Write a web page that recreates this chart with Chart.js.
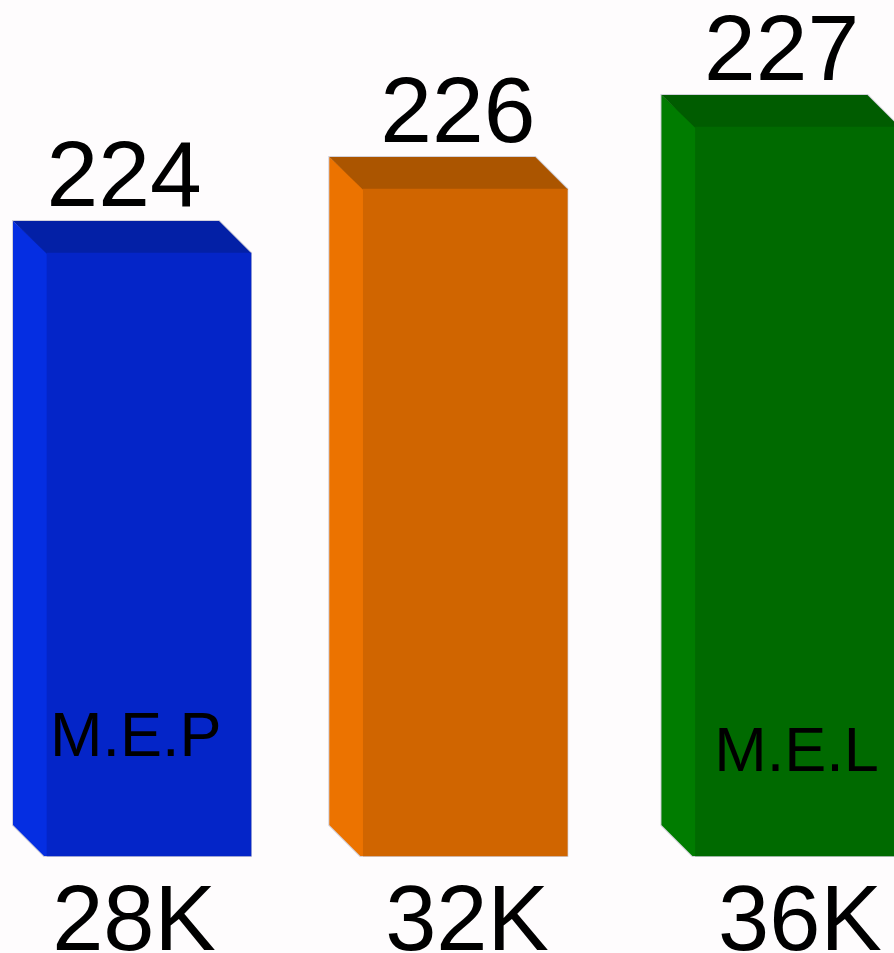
<!DOCTYPE html>
<html lang="en">
<head>
<meta charset="UTF-8">
<title>M.E.P / M.E.L bars</title>
<style>
  html, body { margin: 0; padding: 0; background: #fefcfd; }
  /* the reference is a soft upscaled image */
  canvas { display: block; filter: blur(0.6px); }
</style>
<script src="https://cdn.jsdelivr.net/npm/chart.js@4/dist/chart.umd.min.js"></script>
</head>
<body>
<canvas id="barChart" width="894" height="953"></canvas>
<script>
// values
var tickValues = [28, 32, 36];
var tickLabels = ['28K', '32K', '36K'];
var barPositions = [28.18, 31.98, 35.97];   // where the bars sit on the x axis
var barHeights = [603, 667, 729];           // drawn height, the picture does not scale with the labels
var valueLabels = ['224', '226', '227'];
var valueLabelX = [27.88, 31.89, 35.78];
var noteLabels = ['M.E.P', 'M.E.L'];
var noteX = [28.02, 35.96];
var noteY = [100, 85];

var frontColors = ['#0425c8', '#d06500', '#006a00'];
var sideColors = ['#052ee2', '#ec7300', '#007c00'];
var topColors = ['#0320a6', '#ab5500', '#005c00'];

var FONT = '"Liberation Sans", Arial, sans-serif';
var DEPTH_X = 34;
var DEPTH_Y = 32;

function poly(ctx, pts) {
  ctx.beginPath();
  ctx.moveTo(pts[0][0], pts[0][1]);
  for (var i = 1; i < pts.length; i++) ctx.lineTo(pts[i][0], pts[i][1]);
  ctx.closePath();
}

// side and top faces follow each bar element, the front face is the bar itself
var faces3d = {
  id: 'faces3d',
  beforeDatasetsDraw: function(chart) {
    var ctx = chart.ctx;
    chart.getDatasetMeta(0).data.forEach(function(bar, i) {
      var p = bar.getProps(['x', 'y', 'base', 'width'], true);
      var l = p.x - p.width / 2, r = p.x + p.width / 2;
      var t = p.y, b = p.base;
      var side = [[l + 1, t], [l - DEPTH_X, t - DEPTH_Y], [l - DEPTH_X, b - DEPTH_Y + 1], [l - 3, b], [l + 1, b]];
      var top = [[l, t + 1], [l - DEPTH_X, t - DEPTH_Y], [r - DEPTH_Y, t - DEPTH_Y], [r, t], [r, t + 1]];
      ctx.save();
      // pale soft edge round the whole block
      poly(ctx, [[l - DEPTH_X, t - DEPTH_Y], [r - DEPTH_Y, t - DEPTH_Y], [r, t], [r, b], [l - 3, b], [l - DEPTH_X, b - DEPTH_Y + 1]]);
      ctx.strokeStyle = 'rgba(165,165,185,0.5)';
      ctx.lineWidth = 2;
      ctx.stroke();
      poly(ctx, side);
      ctx.fillStyle = sideColors[i];
      ctx.fill();
      poly(ctx, top);
      ctx.fillStyle = topColors[i];
      ctx.fill();
      ctx.restore();
    });
  },
  afterDatasetsDraw: function(chart) {
    var ctx = chart.ctx;
    var x = chart.scales.x, y = chart.scales.y;
    ctx.save();
    ctx.fillStyle = '#000';
    ctx.textAlign = 'center';
    ctx.textBaseline = 'alphabetic';
    ctx.font = '93px ' + FONT;
    valueLabels.forEach(function(txt, i) {
      ctx.fillText(txt, x.getPixelForValue(valueLabelX[i]), y.getPixelForValue(barHeights[i]) - DEPTH_Y - 15);
    });
    ctx.font = '63px ' + FONT;
    noteLabels.forEach(function(txt, i) {
      ctx.fillText(txt, x.getPixelForValue(noteX[i]), y.getPixelForValue(noteY[i]));
    });
    ctx.restore();
  }
};

new Chart(document.getElementById('barChart').getContext('2d'), {
  type: 'bar',
  data: {
    datasets: [{
      data: barPositions.map(function(pos, i) { return { x: pos, y: barHeights[i] }; }),
      backgroundColor: frontColors,
      borderWidth: 0,
      barThickness: 204,
      clip: false
    }]
  },
  options: {
    responsive: false,
    animation: false,
    layout: { padding: 0 },
    plugins: { legend: { display: false }, tooltip: { enabled: false } },
    scales: {
      x: {
        type: 'linear',
        offset: false,
        min: 26.39,
        max: 37.13,
        grid: { display: false },
        border: { display: false },
        afterBuildTicks: function(axis) {
          axis.ticks = tickValues.map(function(v) { return { value: v }; });
        },
        afterFit: function(axis) {
          axis.height = 97;
          axis.paddingLeft = 0;
          axis.paddingRight = 0;
        },
        ticks: {
          autoSkip: false,
          maxRotation: 0,
          minRotation: 0,
          padding: 5,
          color: '#000',
          font: { family: FONT, size: 92 },
          callback: function(value) { return tickLabels[tickValues.indexOf(value)]; }
        }
      },
      y: { display: false, min: 0, max: 856 }
    }
  },
  plugins: [faces3d]
});
</script>
</body>
</html>
